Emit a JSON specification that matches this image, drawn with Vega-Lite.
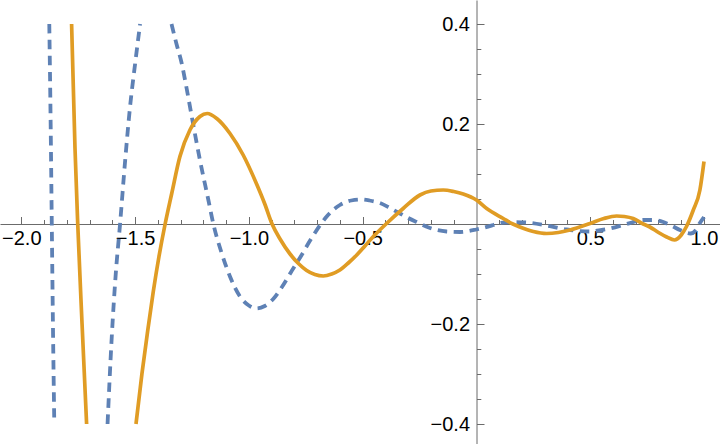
{
  "$schema": "https://vega.github.io/schema/vega-lite/v6.json",
  "width": 720,
  "height": 444,
  "autosize": {"type": "none"},
  "padding": 0,
  "background": "white",
  "config": {"view": {"stroke": null}, "font": "Liberation Sans"},
  "datasets": {
    "pts": [
      {"s": "a", "g": "a1", "x": -1.877, "y": 0.40},
      {"s": "a", "g": "a1", "x": -1.871, "y": 0.20},
      {"s": "a", "g": "a1", "x": -1.866, "y": 0.0},
      {"s": "a", "g": "a1", "x": -1.861, "y": -0.20},
      {"s": "a", "g": "a1", "x": -1.855, "y": -0.40},
      {"s": "a", "g": "a2", "x": -1.621, "y": -0.40},
      {"s": "a", "g": "a2", "x": -1.603, "y": -0.23},
      {"s": "a", "g": "a2", "x": -1.585, "y": -0.10},
      {"s": "a", "g": "a2", "x": -1.566, "y": 0.0},
      {"s": "a", "g": "a2", "x": -1.544, "y": 0.125},
      {"s": "a", "g": "a2", "x": -1.522, "y": 0.235},
      {"s": "a", "g": "a2", "x": -1.500, "y": 0.320},
      {"s": "a", "g": "a2", "x": -1.478, "y": 0.40},
      {"s": "a", "g": "a3", "x": -1.340, "y": 0.40},
      {"s": "a", "g": "a3", "x": -1.318, "y": 0.36},
      {"s": "a", "g": "a3", "x": -1.295, "y": 0.321},
      {"s": "a", "g": "a3", "x": -1.273, "y": 0.27},
      {"s": "a", "g": "a3", "x": -1.251, "y": 0.215},
      {"s": "a", "g": "a3", "x": -1.215, "y": 0.128},
      {"s": "a", "g": "a3", "x": -1.178, "y": 0.048},
      {"s": "a", "g": "a3", "x": -1.156, "y": 0.0},
      {"s": "a", "g": "a3", "x": -1.119, "y": -0.059},
      {"s": "a", "g": "a3", "x": -1.083, "y": -0.105},
      {"s": "a", "g": "a3", "x": -1.039, "y": -0.145},
      {"s": "a", "g": "a3", "x": -1.000, "y": -0.163},
      {"s": "a", "g": "a3", "x": -0.966, "y": -0.169},
      {"s": "a", "g": "a3", "x": -0.930, "y": -0.164},
      {"s": "a", "g": "a3", "x": -0.893, "y": -0.150},
      {"s": "a", "g": "a3", "x": -0.856, "y": -0.127},
      {"s": "a", "g": "a3", "x": -0.812, "y": -0.094},
      {"s": "a", "g": "a3", "x": -0.768, "y": -0.062},
      {"s": "a", "g": "a3", "x": -0.735, "y": -0.036},
      {"s": "a", "g": "a3", "x": -0.710, "y": -0.018},
      {"s": "a", "g": "a3", "x": -0.688, "y": -0.003},
      {"s": "a", "g": "a3", "x": -0.658, "y": 0.015},
      {"s": "a", "g": "a3", "x": -0.600, "y": 0.038},
      {"s": "a", "g": "a3", "x": -0.550, "y": 0.047},
      {"s": "a", "g": "a3", "x": -0.508, "y": 0.049},
      {"s": "a", "g": "a3", "x": -0.470, "y": 0.047},
      {"s": "a", "g": "a3", "x": -0.424, "y": 0.042},
      {"s": "a", "g": "a3", "x": -0.380, "y": 0.032},
      {"s": "a", "g": "a3", "x": -0.336, "y": 0.021},
      {"s": "a", "g": "a3", "x": -0.300, "y": 0.012},
      {"s": "a", "g": "a3", "x": -0.263, "y": 0.004},
      {"s": "a", "g": "a3", "x": -0.204, "y": -0.008},
      {"s": "a", "g": "a3", "x": -0.131, "y": -0.015},
      {"s": "a", "g": "a3", "x": -0.072, "y": -0.016},
      {"s": "a", "g": "a3", "x": 0.0, "y": -0.011},
      {"s": "a", "g": "a3", "x": 0.074, "y": -0.002},
      {"s": "a", "g": "a3", "x": 0.103, "y": 0.002},
      {"s": "a", "g": "a3", "x": 0.160, "y": 0.004},
      {"s": "a", "g": "a3", "x": 0.221, "y": 0.003},
      {"s": "a", "g": "a3", "x": 0.308, "y": -0.003},
      {"s": "a", "g": "a3", "x": 0.396, "y": -0.011},
      {"s": "a", "g": "a3", "x": 0.450, "y": -0.014},
      {"s": "a", "g": "a3", "x": 0.499, "y": -0.015},
      {"s": "a", "g": "a3", "x": 0.550, "y": -0.012},
      {"s": "a", "g": "a3", "x": 0.587, "y": -0.009},
      {"s": "a", "g": "a3", "x": 0.660, "y": 0.0},
      {"s": "a", "g": "a3", "x": 0.733, "y": 0.008},
      {"s": "a", "g": "a3", "x": 0.780, "y": 0.008},
      {"s": "a", "g": "a3", "x": 0.821, "y": 0.004},
      {"s": "a", "g": "a3", "x": 0.860, "y": -0.004},
      {"s": "a", "g": "a3", "x": 0.894, "y": -0.012},
      {"s": "a", "g": "a3", "x": 0.940, "y": -0.019},
      {"s": "a", "g": "a3", "x": 0.965, "y": -0.012},
      {"s": "a", "g": "a3", "x": 0.982, "y": 0.002},
      {"s": "a", "g": "a3", "x": 1.0, "y": 0.014},
      {"s": "b", "g": "b1", "x": -1.779, "y": 0.40},
      {"s": "b", "g": "b1", "x": -1.764, "y": 0.151},
      {"s": "b", "g": "b1", "x": -1.752, "y": 0.0},
      {"s": "b", "g": "b1", "x": -1.733, "y": -0.20},
      {"s": "b", "g": "b1", "x": -1.713, "y": -0.40},
      {"s": "b", "g": "b2", "x": -1.496, "y": -0.40},
      {"s": "b", "g": "b2", "x": -1.470, "y": -0.30},
      {"s": "b", "g": "b2", "x": -1.445, "y": -0.215},
      {"s": "b", "g": "b2", "x": -1.420, "y": -0.135},
      {"s": "b", "g": "b2", "x": -1.395, "y": -0.065},
      {"s": "b", "g": "b2", "x": -1.368, "y": 0.0},
      {"s": "b", "g": "b2", "x": -1.339, "y": 0.061},
      {"s": "b", "g": "b2", "x": -1.303, "y": 0.135},
      {"s": "b", "g": "b2", "x": -1.259, "y": 0.188},
      {"s": "b", "g": "b2", "x": -1.215, "y": 0.215},
      {"s": "b", "g": "b2", "x": -1.183, "y": 0.221},
      {"s": "b", "g": "b2", "x": -1.141, "y": 0.211},
      {"s": "b", "g": "b2", "x": -1.083, "y": 0.181},
      {"s": "b", "g": "b2", "x": -1.025, "y": 0.138},
      {"s": "b", "g": "b2", "x": -0.966, "y": 0.080},
      {"s": "b", "g": "b2", "x": -0.930, "y": 0.040},
      {"s": "b", "g": "b2", "x": -0.898, "y": 0.0},
      {"s": "b", "g": "b2", "x": -0.863, "y": -0.030},
      {"s": "b", "g": "b2", "x": -0.819, "y": -0.060},
      {"s": "b", "g": "b2", "x": -0.780, "y": -0.080},
      {"s": "b", "g": "b2", "x": -0.746, "y": -0.093},
      {"s": "b", "g": "b2", "x": -0.710, "y": -0.101},
      {"s": "b", "g": "b2", "x": -0.673, "y": -0.104},
      {"s": "b", "g": "b2", "x": -0.636, "y": -0.100},
      {"s": "b", "g": "b2", "x": -0.600, "y": -0.092},
      {"s": "b", "g": "b2", "x": -0.563, "y": -0.078},
      {"s": "b", "g": "b2", "x": -0.526, "y": -0.062},
      {"s": "b", "g": "b2", "x": -0.490, "y": -0.044},
      {"s": "b", "g": "b2", "x": -0.453, "y": -0.025},
      {"s": "b", "g": "b2", "x": -0.395, "y": 0.001},
      {"s": "b", "g": "b2", "x": -0.322, "y": 0.031},
      {"s": "b", "g": "b2", "x": -0.248, "y": 0.058},
      {"s": "b", "g": "b2", "x": -0.200, "y": 0.066},
      {"s": "b", "g": "b2", "x": -0.146, "y": 0.068},
      {"s": "b", "g": "b2", "x": -0.100, "y": 0.065},
      {"s": "b", "g": "b2", "x": -0.058, "y": 0.060},
      {"s": "b", "g": "b2", "x": 0.0, "y": 0.048},
      {"s": "b", "g": "b2", "x": 0.045, "y": 0.031},
      {"s": "b", "g": "b2", "x": 0.118, "y": 0.011},
      {"s": "b", "g": "b2", "x": 0.160, "y": 0.0},
      {"s": "b", "g": "b2", "x": 0.191, "y": -0.006},
      {"s": "b", "g": "b2", "x": 0.250, "y": -0.015},
      {"s": "b", "g": "b2", "x": 0.308, "y": -0.019},
      {"s": "b", "g": "b2", "x": 0.360, "y": -0.017},
      {"s": "b", "g": "b2", "x": 0.411, "y": -0.012},
      {"s": "b", "g": "b2", "x": 0.499, "y": 0.001},
      {"s": "b", "g": "b2", "x": 0.560, "y": 0.011},
      {"s": "b", "g": "b2", "x": 0.616, "y": 0.016},
      {"s": "b", "g": "b2", "x": 0.650, "y": 0.015},
      {"s": "b", "g": "b2", "x": 0.689, "y": 0.011},
      {"s": "b", "g": "b2", "x": 0.733, "y": 0.0},
      {"s": "b", "g": "b2", "x": 0.762, "y": -0.006},
      {"s": "b", "g": "b2", "x": 0.800, "y": -0.017},
      {"s": "b", "g": "b2", "x": 0.836, "y": -0.026},
      {"s": "b", "g": "b2", "x": 0.870, "y": -0.032},
      {"s": "b", "g": "b2", "x": 0.900, "y": -0.022},
      {"s": "b", "g": "b2", "x": 0.923, "y": -0.005},
      {"s": "b", "g": "b2", "x": 0.953, "y": 0.028},
      {"s": "b", "g": "b2", "x": 0.982, "y": 0.068},
      {"s": "b", "g": "b2", "x": 1.0, "y": 0.125}
    ]
  },
  "data": {"name": "pts"},
  "encoding": {
    "x": {
      "field": "x", "type": "quantitative",
      "scale": {"domain": [-2.0936, 1.0703], "nice": false, "zero": false},
      "axis": {
        "orient": "bottom", "offset": -220, "title": null, "grid": false,
        "domain": true, "domainColor": "#6b6b6b", "domainWidth": 1,
        "values": [-2.0, -1.9, -1.8, -1.7, -1.6, -1.5, -1.4, -1.3, -1.2, -1.1, -1.0, -0.9, -0.8, -0.7, -0.6, -0.5, -0.4, -0.3, -0.2, -0.1, 0.1, 0.2, 0.3, 0.4, 0.5, 0.6, 0.7, 0.8, 0.9, 1.0],
        "labelExpr": "abs(datum.value*2 - round(datum.value*2)) < 0.000001 ? format(datum.value, '.1f') : ''",
        "tickSize": {"condition": {"test": "abs(datum.value*2 - round(datum.value*2)) < 0.000001", "value": -7.5}, "value": -4.5},
        "tickColor": "#6b6b6b", "tickWidth": 1,
        "labelFont": "Liberation Sans", "labelFontSize": 20, "labelColor": "black",
        "labelPadding": 12, "labelOverlap": false, "labelFlush": false
      }
    },
    "y": {
      "field": "y", "type": "quantitative",
      "scale": {"domain": [-0.44, 0.448], "nice": false, "zero": false},
      "axis": {
        "orient": "left", "offset": -476.5, "title": null, "grid": false,
        "domain": true, "domainColor": "#6b6b6b", "domainWidth": 1,
        "values": [-0.4, -0.35, -0.3, -0.25, -0.2, -0.15, -0.1, -0.05, 0.05, 0.1, 0.15, 0.2, 0.25, 0.3, 0.35, 0.4],
        "labelExpr": "abs(datum.value*5 - round(datum.value*5)) < 0.000001 ? format(datum.value, '.1f') : ''",
        "tickSize": {"condition": {"test": "abs(datum.value*5 - round(datum.value*5)) < 0.000001", "value": -7.5}, "value": -4.3},
        "tickColor": "#6b6b6b", "tickWidth": 1,
        "labelFont": "Liberation Sans", "labelFontSize": 20, "labelColor": "black",
        "labelPadding": 14.5, "labelOverlap": false, "labelFlush": false
      }
    }
  },
  "layer": [
    {
      "transform": [{"filter": "datum.s == 'a'"}],
      "mark": {"type": "line", "color": "#5E81B5", "strokeWidth": 3.8, "strokeDash": [9.5, 6.5], "interpolate": "monotone", "clip": true},
      "encoding": {"detail": {"field": "g"}}
    },
    {
      "transform": [{"filter": "datum.s == 'b'"}],
      "mark": {"type": "line", "color": "#E09C24", "strokeWidth": 3.7, "interpolate": "monotone", "clip": true},
      "encoding": {"detail": {"field": "g"}}
    }
  ]
}
